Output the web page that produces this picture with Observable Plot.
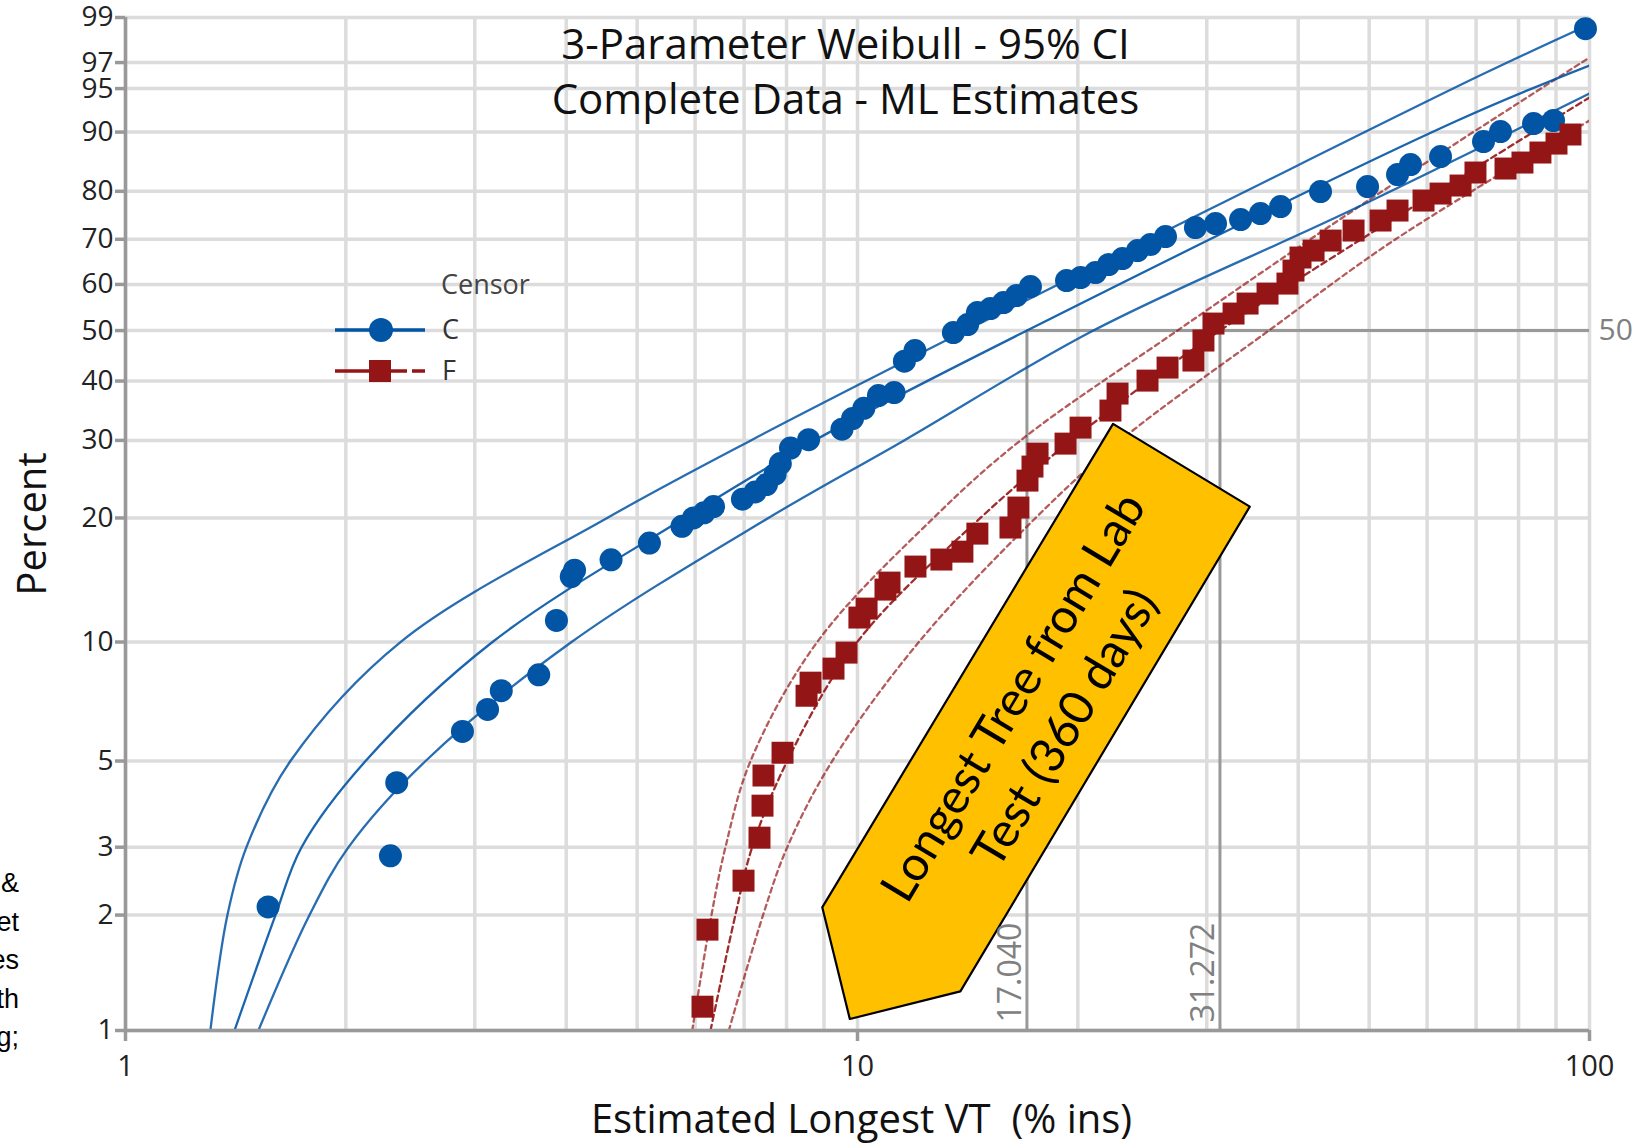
<!DOCTYPE html>
<html>
<head>
<meta charset="utf-8">
<script src="https://cdn.jsdelivr.net/npm/d3@7"></script>
<script src="https://cdn.jsdelivr.net/npm/@observablehq/plot@0.6"></script>
<style>
  html, body { margin: 0; padding: 0; background: #fff; }
  #wrap { position: relative; width: 1639px; height: 1146px; overflow: hidden; background: #fff; }
  #legend { position: absolute; left: 0; top: 0; pointer-events: none; }
  #frag { position: absolute; left: -200px; top: 864px; width: 219px; text-align: right;
          font-family: "Liberation Sans", Arial, sans-serif; font-size: 27px; line-height: 38.5px; color: #000; white-space: pre; }
</style>
</head>
<body>
<div id="wrap"><div id="frag"></div></div>
<script>
// ---------------- data ----------------
const titleLines = ["3-Parameter Weibull - 95% CI", "Complete Data - ML Estimates"];
const xLabel = "Estimated Longest VT\u00a0 (% ins)";
const yLabel = "Percent";
const legendTitle = "Censor";
const groups = ["C", "F"];

const yTicks = [1, 2, 3, 5, 10, 20, 30, 40, 50, 60, 70, 80, 90, 95, 97, 99];
const xTicks = [1, 10, 100];
const xGrid = [1, 2, 3, 4, 5, 6, 7, 8, 9, 10, 20, 30, 40, 50, 60, 70, 80, 90, 100];
const xDomain = [1, 100];
const pDomain = [1, 99];

// group C (blue circles)
const blueX = [1.566, 2.301, 2.347, 2.886, 3.123, 3.261, 3.669, 3.879, 4.064, 4.106,
  4.606, 5.197, 5.757, 5.970, 6.170, 6.358, 6.964, 7.248, 7.510, 7.717,
  7.845, 8.099, 8.574, 9.524, 9.845, 10.20, 10.68, 11.22, 11.59, 11.98,
  13.52, 14.14, 14.58, 15.19, 15.83, 16.49, 17.23, 19.30, 20.17, 21.14,
  22.03, 23.01, 24.13, 25.13, 26.35, 28.95, 30.84, 33.37, 35.52, 37.84,
  42.91, 49.75, 54.67, 56.95, 62.59, 71.65, 75.58, 83.86, 89.30, 98.74];
const blueP = [2.10, 2.85, 4.40, 5.95, 6.77, 7.55, 8.28, 11.31, 14.49, 15.01,
  15.91, 17.44, 19.11, 20.00, 20.56, 21.26, 22.12, 22.99, 23.90, 25.24,
  26.66, 28.87, 30.12, 31.73, 33.44, 35.16, 37.36, 37.90, 43.78, 45.89,
  49.58, 51.27, 53.83, 54.70, 56.01, 57.54, 59.53, 60.86, 61.52, 62.64,
  64.41, 65.75, 67.52, 68.84, 70.59, 72.54, 73.40, 74.25, 75.51, 76.95,
  79.95, 80.92, 83.16, 84.93, 86.28, 88.64, 90.07, 91.15, 91.54, 98.65];

// group F (red squares)
const redX = [6.141, 6.238, 6.987, 7.347, 7.417, 7.440, 7.899, 8.519, 8.627, 9.273,
  9.661, 10.06, 10.29, 10.92, 11.06, 12.00, 13.02, 13.91, 14.58, 16.18,
  16.59, 17.07, 17.34, 17.62, 19.24, 20.17, 22.16, 22.66, 24.90, 26.52, 28.77,
  29.69, 30.64, 32.64, 34.11, 36.32, 38.67, 39.41, 40.29, 41.98, 44.29,
  47.61, 51.83, 54.67, 59.33, 62.59, 66.66, 69.86, 76.78, 80.99, 85.70,
  90.14, 94.19];
const redP = [1.154, 1.833, 2.457, 3.175, 3.84, 4.59, 5.25, 7.33, 7.91, 8.58,
  9.41, 11.50, 12.10, 13.47, 14.01, 15.32, 15.93, 16.64, 18.37, 18.99,
  21.15, 24.40, 26.25, 28.06, 29.52, 31.98, 34.77, 37.72, 40.08, 42.54, 43.91,
  47.93, 51.48, 53.62, 55.79, 57.98, 60.19, 63.08, 65.98, 67.52, 69.72,
  71.90, 74.04, 76.13, 78.17, 79.56, 81.11, 83.52, 84.23, 85.27, 86.93,
  88.33, 89.66];

// fitted lines and 95% CI bands
const blueUpX = [1.306, 1.378, 1.463, 1.680, 2.375, 4.55, 7.15, 14.05, 30.6, 71.65, 100];
const blueUpP = [1, 2, 3, 5, 10, 20, 30, 50, 76.75, 96.22, 98.79];
const blueFitX = [1.409, 1.603, 1.740, 2.128, 3.172, 5.803, 8.736, 17.04, 66.03, 100];
const blueFitP = [1, 2, 3, 5, 10, 20, 30, 50, 91.54, 96.81];
const blueLoX = [1.519, 1.784, 2.017, 2.570, 4.068, 7.556, 11.58, 21.0, 47.16, 100];
const blueLoP = [1, 2, 3, 5, 10, 20, 30, 50, 76.13, 94.54];

const redUpX = [5.945, 6.317, 6.601, 7.143, 8.81, 12.70, 16.7, 27.35, 49.13, 100];
const redUpP = [1, 2, 3, 5, 10, 20, 30, 50, 77.56, 97.31];
const redFitX = [6.298, 6.81, 7.18, 8.017, 9.99, 14.72, 19.6, 31.272, 100];
const redFitP = [1, 2, 3, 5, 10, 20, 30, 50, 94.15];
const redLoX = [6.672, 7.43, 8.017, 9.235, 12.13, 17.51, 22.87, 36.47, 53.99, 100];
const redLoP = [1, 2, 3, 5, 10, 20, 30, 50, 69.72, 91.54];

// reference (median) lines
const refX = [17.040, 31.272];
const refP = 50;

// annotation arrow (x, percent)
const arrowX = [22.34, 34.35, 13.82, 9.761, 8.951];
const arrowP = [32.58, 21.26, 1.2655, 1.0718, 2.095];
const arrowLabel = "Longest Tree from Lab\nTest (360 days)";
const arrowLabelX = 17.56;
const arrowLabelP = 6.7;

const leftFragments = ["&", "et", "es", "th", "g;"];

// ---------------- chart ----------------
const BLUE = "#0254a5";
const RED = "#941515";
const W = p => Math.log(-Math.log(1 - p / 100));   // Weibull probability transform
const yTicksW = yTicks.map(W);

const zip = (xs, ps) => xs.map((x, i) => ({x, y: W(ps[i])}));
const bluePts = zip(blueX, blueP);
const redPts = zip(redX, redP);

const lineOpts = (color, dash, op) => ({x: "x", y: "y", stroke: color, strokeWidth: 2.3,
  strokeDasharray: dash, strokeOpacity: op, curve: "catmull-rom", clip: true});

const chart = Plot.plot({
  width: 1639,
  height: 1146,
  marginLeft: 125,
  marginRight: 50,
  marginTop: 17,
  marginBottom: 116,
  style: {fontFamily: "'Open Sans', sans-serif", background: "transparent", overflow: "visible"},
  x: {type: "log", domain: xDomain},
  y: {type: "linear", domain: [W(pDomain[0]), W(pDomain[1])]},
  marks: [
    Plot.gridX(xGrid, {stroke: "#dcdcdc", strokeOpacity: 1, strokeWidth: 3.5}),
    Plot.gridY(yTicksW, {stroke: "#dcdcdc", strokeOpacity: 1, strokeWidth: 3.5}),
    // reference lines
    Plot.ruleY([W(refP)], {x1: refX[0], x2: xDomain[1], stroke: "#999", strokeWidth: 3}),
    Plot.ruleX(refX, {y1: W(pDomain[0]), y2: W(refP), stroke: "#999", strokeWidth: 3}),
    // CI + fit lines
    Plot.line(zip(redUpX, redUpP), lineOpts(RED, "5,4", 0.7)),
    Plot.line(zip(redLoX, redLoP), lineOpts(RED, "5,4", 0.7)),
    Plot.line(zip(redFitX, redFitP), lineOpts(RED, "6,4", 0.9)),
    Plot.line(zip(blueUpX, blueUpP), lineOpts(BLUE, null, 0.85)),
    Plot.line(zip(blueLoX, blueLoP), lineOpts(BLUE, null, 0.85)),
    Plot.line(zip(blueFitX, blueFitP), lineOpts(BLUE, null, 0.9)),
    // points
    Plot.dot(bluePts, {x: "x", y: "y", r: 11.5, fill: BLUE, stroke: null}),
    Plot.dot(redPts, {x: "x", y: "y", r: 12.4, symbol: "square", fill: RED, stroke: null}),
    // annotation arrow
    Plot.line(zip(arrowX, arrowP), {x: "x", y: "y", curve: "linear-closed", fill: "#ffc000", stroke: "#000", strokeWidth: 2.2}),
    Plot.text([{x: arrowLabelX, y: W(arrowLabelP), t: arrowLabel}], {x: "x", y: "y", text: "t",
      rotate: -59, fontSize: 48, lineHeight: 1.25, fontFamily: "Lato, 'Open Sans', sans-serif", fill: "#000"}),
    // reference labels
    Plot.text(refX, {x: d => d, y: () => W(pDomain[0]), text: d => d.toFixed(3), rotate: -90,
      textAnchor: "start", dx: -16, dy: -8, fontSize: 32, fill: "#808080"}),
    Plot.text([refP], {x: () => xDomain[1], y: d => W(d), text: d => String(d), textAnchor: "start",
      dx: 9, fontSize: 30, fill: "#808080"}),
    // axis lines
    Plot.ruleX([xDomain[0]], {stroke: "#999", strokeWidth: 3.5}),
    Plot.ruleY([W(pDomain[0])], {stroke: "#999", strokeWidth: 3.5}),
    // axes
    Plot.axisY(yTicksW, {tickFormat: d => String(yTicks[yTicksW.indexOf(d)]), tickSize: 10, tickPadding: 2,
      stroke: "#999", strokeWidth: 3.5, fill: "#222", fontSize: 28, label: null}),
    Plot.axisX(xTicks, {tickFormat: d => String(d), tickSize: 11, tickPadding: 14,
      stroke: "#999", strokeWidth: 3.5, fill: "#222", fontSize: 29, label: null}),
    // titles
    Plot.text([titleLines.join("\n")], {frameAnchor: "top", lineAnchor: "middle", dx: -12, dy: 51, lineHeight: 1.31,
      fontSize: 42, fill: "#111", text: d => d}),
    Plot.text([xLabel], {frameAnchor: "bottom", lineAnchor: "middle", dx: 4, dy: 90, fontSize: 40, fill: "#111", text: d => d}),
    Plot.text([yLabel], {frameAnchor: "left", textAnchor: "middle", lineAnchor: "middle", dx: -92, rotate: -90,
      fontSize: 40, fill: "#111", text: d => d})
  ]
});
document.getElementById("wrap").appendChild(chart);

// ---------------- legend (inside plot area) ----------------
const lg = d3.create("svg").attr("id", "legend").attr("width", 1639).attr("height", 1146)
  .style("font-family", "'Open Sans', sans-serif");
lg.append("text").attr("x", 441).attr("y", 285).attr("dy", "0.35em").attr("font-size", 27)
  .attr("fill", "#444").text(legendTitle);
const rows = [{g: groups[0], y: 330, color: BLUE, dash: null, sym: "circle"},
              {g: groups[1], y: 371, color: RED, dash: "72,5,20", sym: "square"}];
for (const r of rows) {
  lg.append("line").attr("x1", 335).attr("x2", 425).attr("y1", r.y).attr("y2", r.y)
    .attr("stroke", r.color).attr("stroke-width", 3.5).attr("stroke-dasharray", r.dash);
  if (r.sym === "circle") lg.append("circle").attr("cx", 381).attr("cy", r.y).attr("r", 12).attr("fill", r.color);
  else lg.append("rect").attr("x", 369).attr("y", r.y - 11).attr("width", 22).attr("height", 22).attr("fill", r.color);
  lg.append("text").attr("x", 442).attr("y", r.y).attr("dy", "0.35em").attr("font-size", 27)
    .attr("fill", "#333").text(r.g);
}
document.getElementById("wrap").appendChild(lg.node());

document.getElementById("frag").textContent = leftFragments.join("\n");
</script>
</body>
</html>
